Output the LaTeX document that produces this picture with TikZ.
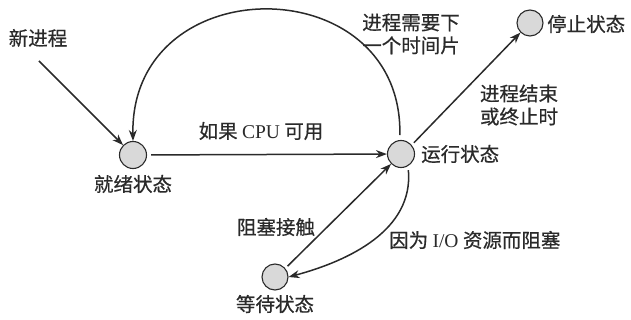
\documentclass[tikz,border=0pt]{standalone}
\usepackage{fontspec}
\setmainfont{Liberation Serif}
\newfontfamily\cjk[FakeBold=0.6]{Noto Sans CJK SC}
\usetikzlibrary{arrows.meta}
\definecolor{ink}{HTML}{2A2A2A}
\definecolor{fillg}{HTML}{D9D9D9}
\tikzset{
  state/.style={circle, draw=ink, fill=fillg, line width=1.1pt, minimum size=27pt, inner sep=0pt},
  lbl/.style={text=ink, font=\cjk\fontsize{19.5}{23}\selectfont, inner sep=0pt, align=left},
  arr/.style={draw=ink, line width=1.5pt, -{Stealth[length=11pt,width=8pt]}}
}
\begin{document}
\begin{tikzpicture}[x=1pt,y=-1pt]
\useasboundingbox (0,0) rectangle (631,320);
\node[state] (ready) at (133,155) {};
\node[state] (run) at (401,154) {};
\node[state, minimum size=26pt] (stop) at (530,23) {};
\node[state, minimum size=26pt] (wait) at (275,277) {};
\coordinate (newp) at (39,61);

\node[lbl] (tnew) at (38,38) {新进程};
\node[lbl] (tready) at (133,184) {就绪状态};
\node[lbl, anchor=west] (trun) at (421,154) {运行状态};
\node[lbl, anchor=west] (tstop) at (547,24) {停止状态};
\node[lbl] (twait) at (275,304) {等待状态};
\node[lbl] (tcpu) at (261,131) {如果 {\rmfamily CPU} 可用};
\node[lbl] (tslice) at (411,34) {进程需要下\\一个时间片};
\node[lbl] (tend) at (519,105) {进程结束\\或终止时};
\node[lbl] (tblk) at (276,227) {阻塞接触};
\node[lbl, anchor=west] (tio) at (389,240) {因为 {\rmfamily I/O} 资源而阻塞};

\draw[arr] (newp) -- (ready.north west);
\draw[arr, shorten <=4pt] (ready) -- (run);
\draw[arr, shorten <=5pt] (run.95) .. controls (403,-33) and (130,-33) .. (ready.90);
\draw[arr, shorten <=3pt] (run.40) -- (stop.225);
\draw[arr, shorten <=3pt] (wait.40) -- (run.225);
\draw[arr, shorten <=4pt] (run.-60) to[out=-85,in=15] (wait.east);
\end{tikzpicture}
\end{document}
